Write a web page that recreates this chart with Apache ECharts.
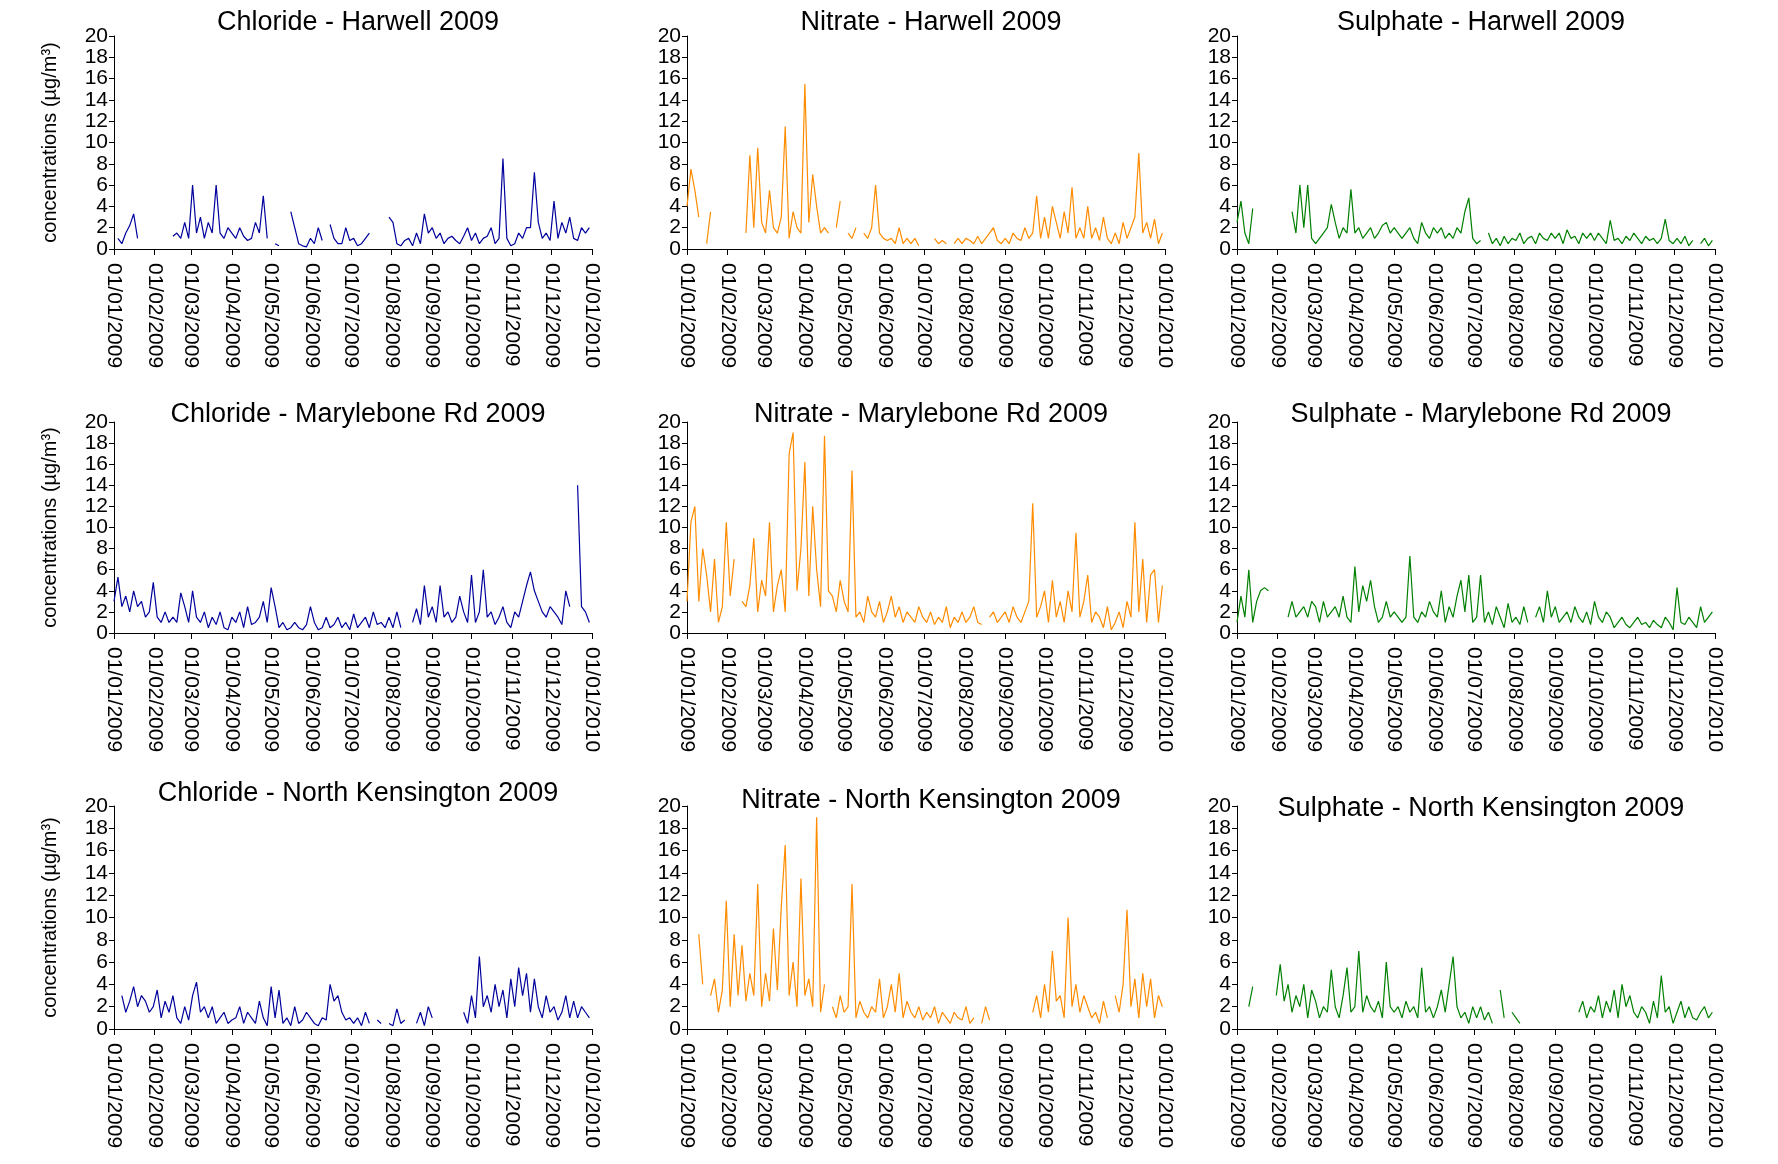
<!DOCTYPE html>
<html><head><meta charset="utf-8">
<script src="https://cdn.jsdelivr.net/npm/echarts@6/dist/echarts.min.js"></script>
<style>html,body{margin:0;background:#fff}#c{width:1778px;height:1164px}</style></head>
<body><div id="c"></div>
<script>
// values sampled every 3 days starting 01/01/2009; null = gap
const clH=[null,1.0,0.5,1.5,2.2,3.3,1.0,null,null,null, null,null,null,null,null,1.2,1.5,1.0,2.5,1.0, 6.0,1.5,3.0,1.0,2.5,1.5,6.0,1.5,1.0,2.0, 1.5,1.0,2.0,1.2,0.8,1.0,2.5,1.5,5.0,1.0, null,0.5,0.3,null,null,3.5,2.0,0.5,0.3,0.2,1.0, 0.5,2.0,0.8,null,2.3,1.0,0.5,0.5,2.0,0.8, 1.0,0.3,0.5,1.0,1.5,null,null,null,null,3.0, 2.5,0.5,0.3,0.8,1.0,0.3,1.5,0.5,3.3,1.5, 2.0,1.0,1.5,0.5,1.0,1.2,0.8,0.5,1.2,2.0, 0.8,1.5,0.5,1.0,1.2,2.0,0.5,1.0,8.5,1.0,0.3, 0.5,1.5,1.0,2.0,2.0,7.2,2.5,1.0,1.5,0.8, 4.5,1.0,2.5,1.5,3.0,1.0,0.8,2.0,1.5,2.0];
const niH=[4.0,7.5,5.5,3.0,null,0.5,3.5,null,null,null, null,null,null,null,null,1.5,8.8,2.0,9.5,2.5, 1.5,5.5,2.0,1.5,3.0,11.5,1.0,3.5,2.0,1.5, 15.5,2.5,7.0,4.0,1.5,2.0,1.5,null,2.0,4.5, null,1.5,1.0,2.0,null,1.5,1.0,2.0,6.0,1.5,1.0, 0.8,1.0,0.5,2.0,0.5,1.0,0.5,1.0,0.3,null, 0.5,null,1.0,0.5,0.8,0.5,null,0.5,1.0,0.5, 1.0,0.8,0.5,1.2,0.5,1.0,1.5,2.0,0.8,0.5, 1.0,0.5,1.5,1.0,0.8,2.0,1.0,1.5,5.0,1.0, 3.0,1.0,4.0,2.5,1.0,3.5,1.5,5.8,1.0,2.0,1.0, 4.0,1.0,2.0,0.8,3.0,1.0,0.5,1.5,0.5,2.5, 1.0,2.0,3.0,9.0,1.5,2.5,1.0,2.8,0.5,1.5];
const suH=[2.5,4.5,1.5,0.5,3.8,null,null,null,null,null, null,null,null,null,3.5,1.5,6.0,2.0,6.0,1.0, 0.5,1.0,1.5,2.0,4.2,2.5,1.0,2.0,1.5,5.6, 1.5,2.0,1.0,1.5,2.0,1.0,1.5,2.2,2.5,1.5, 2.0,1.5,1.0,1.5,2.0,1.0,0.5,2.5,1.5,1.0,2.0, 1.5,2.0,1.0,1.5,1.0,2.0,1.5,3.5,4.8,1.0, 0.5,0.8,null,1.5,0.5,1.0,0.3,1.2,0.5,1.0, 0.8,1.5,0.5,1.0,1.2,0.5,1.5,1.0,0.8,1.5, 1.0,1.5,0.5,1.8,1.0,1.2,0.5,1.5,1.0,1.5, 0.8,1.5,1.0,0.5,2.7,0.8,1.0,0.5,1.2,0.8,1.5, 1.0,0.5,1.2,0.8,1.0,0.5,1.0,2.8,0.8,0.5, 1.0,0.5,1.2,0.3,0.8,null,0.5,1.0,0.3,0.8];
const clM=[3.0,5.3,2.5,3.5,2.0,4.0,2.5,3.0,1.5,2.0, 4.8,1.5,1.0,2.0,1.0,1.5,1.0,3.8,2.5,1.0, 4.0,1.5,1.0,2.0,0.5,1.5,0.8,2.0,0.5,0.3, 1.5,1.0,2.0,0.5,2.5,0.8,1.0,1.5,3.0,1.0, 4.3,2.5,0.5,1.0,0.3,0.5,1.0,0.5,0.3,0.8,2.5, 1.0,0.3,0.5,1.5,0.5,0.8,1.5,0.5,1.0,0.3, 1.8,0.5,1.0,1.5,0.5,2.0,0.8,1.0,0.5,1.5, 0.5,2.0,0.5,null,null,1.0,2.3,0.8,4.5,1.5, 2.5,1.0,4.5,1.5,2.0,1.0,1.5,3.5,2.0,1.0, 5.5,1.0,2.0,6.0,1.5,2.0,0.8,1.5,2.5,1.0,0.5, 2.0,1.5,3.0,4.5,5.8,4.0,3.0,2.0,1.5,2.5, 2.0,1.5,0.8,4.0,2.5,null,14.0,2.5,2.0,1.0];
const niM=[3.0,10.5,12.0,3.0,8.0,5.5,2.0,7.0,1.0,2.5, 10.5,3.5,7.0,null,3.0,2.5,4.5,9.0,2.0,5.0, 3.5,10.5,2.0,4.5,6.0,2.0,17.0,19.0,4.0,8.0, 16.2,3.5,12.0,6.0,2.5,18.7,4.0,3.5,2.0,5.0, 3.0,2.0,15.4,1.5,2.0,1.0,3.5,2.0,1.5,3.0,1.0, 2.0,3.5,1.5,2.5,1.0,2.0,1.5,1.0,2.5,1.5, 1.0,2.0,0.8,1.5,1.0,2.5,0.5,1.5,1.0,2.0, 1.0,1.5,2.5,1.0,0.8,null,1.5,2.0,1.0,1.5, 2.0,1.0,2.5,1.5,1.0,2.0,3.0,12.3,1.5,2.5, 4.0,1.0,5.0,1.5,3.0,1.0,4.0,2.0,9.5,1.5,3.0, 5.5,1.0,2.0,1.5,0.5,2.5,0.3,1.0,2.0,0.5, 3.0,1.5,10.5,2.0,7.0,1.0,5.5,6.0,1.0,4.5];
const suM=[1.0,3.5,1.5,6.0,1.0,3.0,4.0,4.3,4.0,null, null,null,null,1.5,3.0,1.5,2.0,2.5,1.5,3.0, 2.5,1.0,3.0,1.5,2.0,2.5,1.5,3.5,1.5,1.0, 6.3,2.0,4.5,3.0,5.0,2.5,1.0,1.5,3.0,1.5, 2.0,1.5,1.0,1.5,7.3,1.5,1.0,2.0,1.5,3.0,2.0, 1.5,4.0,1.0,2.5,1.5,3.5,5.0,2.0,5.5,1.0, 1.5,5.5,1.0,2.0,0.8,2.5,1.5,0.5,2.8,1.0, 1.5,0.8,2.5,1.0,null,1.5,2.5,1.0,4.0,1.5, 2.5,1.0,1.5,2.0,1.0,2.5,1.5,1.0,2.0,0.8, 3.0,1.5,1.0,2.0,1.5,0.5,1.0,1.5,0.8,0.5,1.0, 1.5,0.8,1.0,0.5,1.2,0.8,0.5,1.5,1.0,0.3, 4.3,1.0,0.8,1.5,1.0,0.5,2.5,1.0,1.5,2.0];
const clK=[null,null,3.0,1.5,2.5,3.8,2.0,3.0,2.5,1.5, 2.0,3.5,1.0,2.5,1.5,3.0,1.0,0.5,2.0,0.8, 3.0,4.2,1.5,2.0,1.0,2.0,0.5,1.0,1.5,0.5, 0.8,1.0,2.0,0.5,1.5,1.0,0.5,2.5,1.0,0.3, 3.8,1.0,3.5,0.5,1.0,0.3,2.0,0.5,0.8,1.5,1.0, 0.5,0.3,1.0,0.8,4.0,2.5,3.0,1.5,0.8,1.0, 0.5,1.0,0.3,1.5,0.5,null,0.8,0.5,null,0.5, 0.3,1.8,0.5,0.8,null,null,0.5,1.5,0.3,2.0, 1.0,null,null,null,null,null,null,null,1.5,0.5, 3.0,1.0,6.5,2.0,3.0,1.5,4.0,2.0,3.5,1.0,4.5, 2.0,5.5,3.0,5.0,1.5,4.5,2.0,1.0,3.0,1.5, 2.0,0.8,1.5,3.0,1.0,2.5,1.0,2.0,1.5,1.0];
const niK=[null,null,null,8.5,4.0,null,3.0,4.5,1.5,3.5, 11.5,2.0,8.5,3.0,7.5,2.5,5.0,3.0,13.0,2.0, 5.0,2.5,9.0,3.5,11.0,16.5,3.0,6.0,2.0,13.5, 3.0,4.5,2.0,19.0,1.5,4.0,null,2.0,1.0,3.0, 1.5,2.0,13.0,1.0,2.5,1.5,1.0,2.0,1.5,4.5,1.0, 2.0,4.0,1.5,5.0,1.0,2.5,1.5,1.0,2.0,0.8, 1.5,1.0,2.0,0.5,1.5,1.0,0.5,1.5,1.0,0.8, 2.0,0.5,1.0,null,0.5,2.0,0.8,null,null,null, null,null,null,null,null,null,null,1.5,3.0,1.0, 4.0,1.5,7.0,2.5,3.0,1.0,10.0,2.0,4.0,1.5,3.0, 2.0,1.0,1.5,0.5,2.5,1.0,null,3.0,1.5,4.0, 10.7,2.0,4.5,1.0,5.0,2.0,4.5,1.0,3.0,2.0];
const suK=[null,null,null,2.0,3.8,null,null,null,null,null, 3.0,5.8,2.5,4.0,1.5,3.0,2.0,4.0,1.0,3.5, 2.5,1.0,2.0,1.5,5.3,2.0,1.0,3.0,5.5,1.5, 2.0,7.0,1.5,3.0,2.0,1.5,2.5,1.0,6.0,2.0, 1.5,2.0,1.0,2.5,1.5,2.0,1.0,5.5,1.5,2.0,1.0, 2.0,3.5,1.5,4.0,6.5,2.0,1.0,1.5,0.5,2.0, 1.0,2.0,0.8,1.5,0.5,null,3.5,1.0,null,1.5, 1.0,0.5,null,null,null,null,null,null,null,null, null,null,null,null,null,null,1.5,2.5,1.0,2.0, 1.5,3.0,1.0,2.5,1.5,3.5,1.0,4.0,2.0,3.0,1.5, 1.0,2.0,1.5,0.5,2.5,1.0,4.8,1.5,2.0,0.5, 1.5,2.5,1.0,2.0,1.0,0.8,1.5,2.0,1.0,1.5];

const titles=[["Chloride - Harwell 2009","Nitrate - Harwell 2009","Sulphate - Harwell 2009"],
["Chloride - Marylebone Rd 2009","Nitrate - Marylebone Rd 2009","Sulphate - Marylebone Rd 2009"],
["Chloride - North Kensington 2009","Nitrate - North Kensington 2009","Sulphate - North Kensington 2009"]];
const series=[[clH,niH,suH],[clM,niM,suM],[clK,niK,suK]];
const colors=["#00009c","#ff8c00","#008000"];
const yName="concentrations (µg/m³)";

const pad=n=>String(n).padStart(2,'0');
const days=[];
for(let t=Date.UTC(2009,0,1);t<=Date.UTC(2010,0,1);t+=86400000){const d=new Date(t);days.push(pad(d.getUTCDate())+'/'+pad(d.getUTCMonth()+1)+'/'+d.getUTCFullYear());}

const lefts=[114,687,1237], W=478;
const tops=[36,422,806], Hs=[213,211,223];
const titleTops=[[4,4,4],[396,396,396],[775,782,790]];
const grid=[],xAxis=[],yAxis=[],ser=[],title=[];
let k=0;
for(let r=0;r<3;r++)for(let c=0;c<3;c++){
  grid.push({left:lefts[c],top:tops[r],width:W,height:Hs[r]});
  title.push({text:titles[r][c],left:lefts[c]+W/2,top:titleTops[r][c],textAlign:'center',
    textStyle:{fontFamily:'Liberation Sans',fontSize:27,fontWeight:'normal',color:'#000'}});
  xAxis.push({type:'category',gridIndex:k,data:days,boundaryGap:false,
    axisLine:{lineStyle:{color:'#000'}},
    axisTick:{interval:(i,v)=>v.startsWith('01/'),length:6,lineStyle:{color:'#000'}},
    axisLabel:{interval:(i,v)=>v.startsWith('01/'),rotate:-90,color:'#000',fontSize:21,fontFamily:'Liberation Sans',margin:14}});
  yAxis.push({type:'value',gridIndex:k,min:0,max:20,interval:2,
    name:c===0?yName:'',nameLocation:'middle',nameGap:54,nameTextStyle:{fontSize:20,fontFamily:'Liberation Sans',color:'#000'},
    axisLine:{show:true,lineStyle:{color:'#000'}},axisTick:{show:true,length:5,lineStyle:{color:'#000'}},
    splitLine:{show:false},axisLabel:{color:'#000',fontSize:21,fontFamily:'Liberation Sans',margin:6}});
  const vals=series[r][c];
  ser.push({type:'line',xAxisIndex:k,yAxisIndex:k,showSymbol:false,connectNulls:false,
    lineStyle:{width:1.2,color:colors[c]},itemStyle:{color:colors[c]},
    data:vals.map((v,i)=>[days[i*3],v])});
  k++;
}
const ch=echarts.init(document.getElementById('c'));
ch.setOption({animation:false,title,grid,xAxis,yAxis,series:ser});
</script></body></html>
